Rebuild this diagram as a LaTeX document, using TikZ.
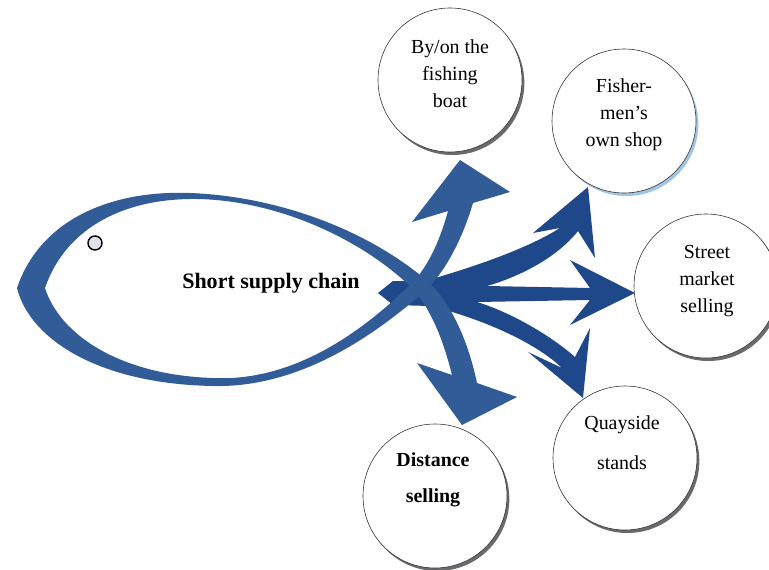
\documentclass[tikz,border=0pt]{standalone}
\usepackage{fontspec}
\setmainfont{Liberation Serif}
\usetikzlibrary{shadows}

\definecolor{fishblue}{RGB}{50,92,152}
\definecolor{arrowblue}{RGB}{30,72,138}
\definecolor{shadowgray}{RGB}{105,105,110}
\definecolor{shadowblue}{RGB}{160,196,228}
\definecolor{eyegray}{RGB}{222,226,236}

\tikzset{
  outlet/.style={circle,draw=black!80,line width=0.5pt,fill=white,
    minimum size=4.32cm,inner sep=0pt,
    drop shadow={shadow xshift=0.07cm,shadow yshift=-0.09cm,fill=#1,opacity=1}},
  outlet/.default=shadowgray,
  lbl/.style={align=center,font=\fontsize{17}{23}\selectfont},
  title/.style={font=\bfseries\fontsize{18.8}{22}\selectfont},
  eye/.style={circle,draw=black,line width=1.2pt,fill=eyegray,
    minimum size=0.42cm,inner sep=0pt},
}

\begin{document}
\begin{tikzpicture}[x=0.03cm,y=-0.03cm]
\useasboundingbox (0,0) rectangle (769,569);

% three dark arrows fanning out to the right
\fill[arrowblue] (378,293) -- (393,281) -- (425,281)
  .. controls (470,268) and (525,250) .. (560,228)
  -- (533,233) -- (588,187) -- (595,258) -- (578,231)
  .. controls (555,260) and (515,278) .. (487,286)
  -- (590,288) -- (570,260) -- (635,293) -- (570,325) -- (590,300)
  -- (477,302) .. controls (510,312) and (550,335) .. (575,357)
  -- (590,328) -- (583,398) -- (528,352) -- (562,368)
  .. controls (535,342) and (480,318) .. (430,306)
  -- (393,305) -- cycle;

% upper arc of the fish, running on into the down arrow
\fill[fishblue] (17,288) .. controls (40,220) and (110,190) .. (190,193)
  .. controls (270,196) and (360,225) .. (425,279)
  .. controls (450,300) and (468,340) .. (477,383)
  -- (517,397) -- (462,425) -- (417,363) -- (452,375)
  .. controls (442,335) and (430,310) .. (415,291)
  .. controls (360,236) and (270,198) .. (190,199)
  .. controls (120,200) and (65,230) .. (45,288) -- cycle;

% lower arc, running on into the up arrow
\fill[fishblue] (17,288) .. controls (30,340) and (100,384) .. (213,386)
  .. controls (300,388) and (375,335) .. (425,291)
  .. controls (445,272) and (462,240) .. (473,203)
  -- (510,192) -- (460,160) -- (412,222) -- (448,211)
  .. controls (440,240) and (430,262) .. (415,280)
  .. controls (365,330) and (295,382) .. (213,378)
  .. controls (120,375) and (60,335) .. (45,288) -- cycle;

\node[eye] (eye) at (95,243) {};
\node[title] (chain) at (271,283) {Short supply chain};

% outlets
\node[outlet] (boat) at (450,80) {};
\node[outlet=shadowblue] (shop) at (624,121) {};
\node[outlet] (street) at (706,286) {};
\node[outlet] (quay) at (625,458) {};
\node[outlet] (distance) at (435,496) {};

\node[lbl] (boatlbl) at (450,74) {By/on the\\fishing\\boat};
\node[lbl] (shoplbl) at (624,115) {Fisher-\\men's\\own shop};
\node[lbl] (streetlbl) at (707,281) {Street\\market\\selling};
\node[lbl] (quaylbl) at (622,443) {Quayside\\[11pt]stands};
\node[lbl,font=\bfseries\fontsize{17}{23}\selectfont] (distancelbl) at (433,480)
  {Distance\\[7.5pt]selling};
\end{tikzpicture}
\end{document}
